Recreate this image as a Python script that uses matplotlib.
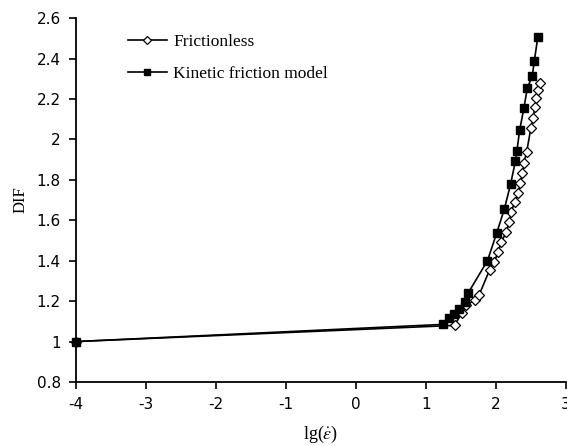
import matplotlib
matplotlib.use("Agg")
import matplotlib.pyplot as plt
from matplotlib.ticker import FuncFormatter

plt.rcParams['axes.unicode_minus'] = False
plt.rcParams['mathtext.fontset'] = 'stix'

# lg(strain rate) vs DIF
fric_x = [-4, 1.41, 1.51, 1.58, 1.70, 1.76, 1.91, 1.98, 2.03, 2.08, 2.15, 2.19,
          2.22, 2.27, 2.32, 2.35, 2.38, 2.40, 2.44, 2.50, 2.53, 2.56, 2.58, 2.60, 2.63]
fric_y = [1.0, 1.08, 1.14, 1.18, 1.206, 1.23, 1.354, 1.395, 1.444, 1.494, 1.543, 1.593,
          1.642, 1.692, 1.733, 1.783, 1.832, 1.882, 1.939, 2.055, 2.104, 2.162, 2.203, 2.244, 2.277]

kin_x = [-4, 1.25, 1.33, 1.40, 1.48, 1.56, 1.60, 1.88, 2.01, 2.12, 2.21, 2.28,
         2.30, 2.34, 2.40, 2.45, 2.52, 2.55, 2.60]
kin_y = [1.0, 1.085, 1.115, 1.138, 1.163, 1.195, 1.238, 1.40, 1.535, 1.654, 1.778, 1.894,
         1.942, 2.046, 2.154, 2.255, 2.313, 2.39, 2.508]

labels = ['Frictionless', 'Kinetic friction model']
x_ticks = [-4, -3, -2, -1, 0, 1, 2, 3]
y_ticks = [0.8, 1.0, 1.2, 1.4, 1.6, 1.8, 2.0, 2.2, 2.4, 2.6]

fig = plt.figure(figsize=(5.67, 4.46), dpi=100)
ax = fig.add_axes([0.134, 0.1435, 0.864, 0.816])

ax.plot(fric_x, fric_y, color='black', lw=1.2, marker='D', ms=5,
        mfc='white', mec='black', mew=0.9, label=labels[0], clip_on=False)
ax.plot(kin_x, kin_y, color='black', lw=1.2, marker='s', ms=5.5,
        mfc='black', mec='black', label=labels[1], clip_on=False)

ax.set_xlim(-4, 3)
ax.set_ylim(0.8, 2.6)
ax.set_xticks(x_ticks)
ax.set_yticks(y_ticks)
ax.yaxis.set_major_formatter(FuncFormatter(lambda v, p: '%g' % round(v, 1)))
ax.tick_params(direction='out', length=5, width=1.2, labelsize=11, pad=6)
for s in ['top', 'right']:
    ax.spines[s].set_visible(False)
for s in ['left', 'bottom']:
    ax.spines[s].set_linewidth(1.3)

ax.set_xlabel(r'lg($\dot{\varepsilon}$)', family='Liberation Serif', fontsize=13, labelpad=8)
ax.set_ylabel('DIF', family='Liberation Serif', fontsize=12, labelpad=6)

ax.legend(loc='upper left', bbox_to_anchor=(0.075, 1.0), frameon=False,
          prop={'family': 'Liberation Serif', 'size': 12.5}, handlelength=2.2,
          labelspacing=0.9, handletextpad=0.4, markerscale=0.8)

fig.savefig('out.png', dpi=100)
